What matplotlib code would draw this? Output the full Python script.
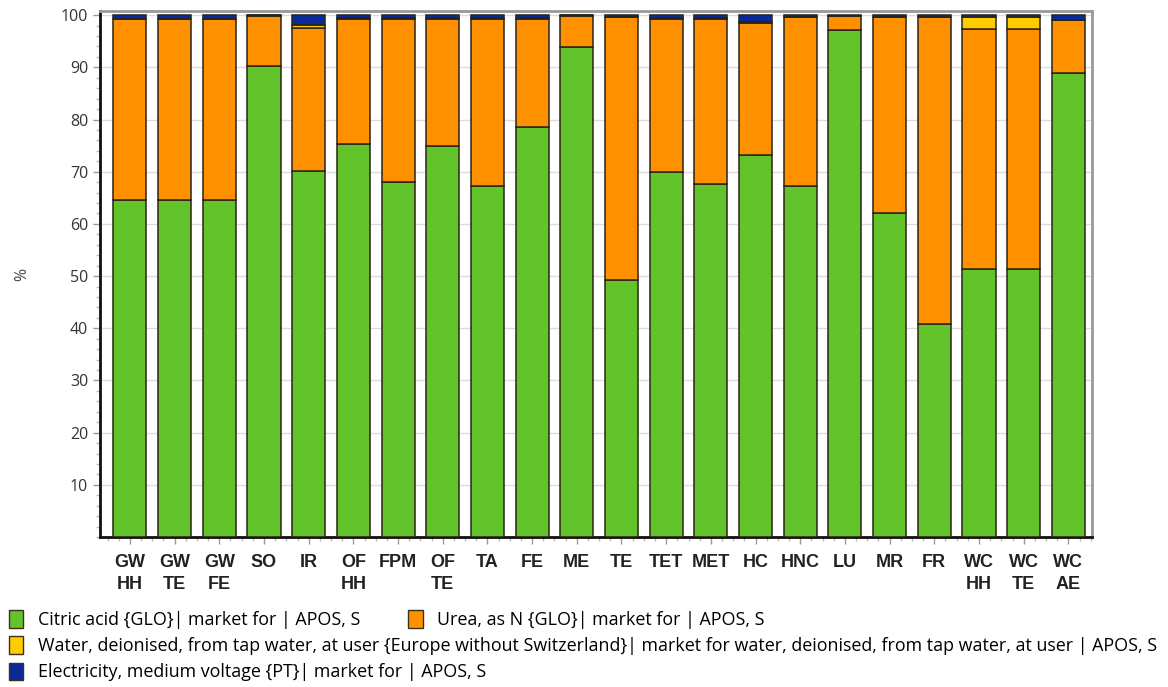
import matplotlib
matplotlib.use("Agg")
import matplotlib.pyplot as plt
from matplotlib.patches import Patch
from matplotlib.ticker import MultipleLocator
import numpy as np

# 데이터
labels = ["GW\nHH", "GW\nTE", "GW\nFE", "SO", "IR", "OF\nHH", "FPM", "OF\nTE", "TA", "FE", "ME",
          "TE", "TET", "MET", "HC", "HNC", "LU", "MR", "FR", "WC\nHH", "WC\nTE", "WC\nAE"]
citric = [64.5, 64.5, 64.5, 90.2, 70.2, 75.3, 68.0, 75.0, 67.3, 78.5, 93.9,
          49.2, 70.0, 67.6, 73.3, 67.3, 97.2, 62.0, 40.8, 51.3, 51.3, 88.9]
urea = [34.7, 34.7, 34.7, 9.7, 27.4, 24.0, 31.3, 24.3, 32.0, 20.8, 6.0,
        50.4, 29.3, 31.7, 25.2, 32.3, 2.6, 37.6, 58.8, 46.0, 46.0, 10.1]
water = [0.1, 0.1, 0.1, 0.05, 0.5, 0.1, 0.1, 0.1, 0.1, 0.1, 0.05,
         0.1, 0.1, 0.1, 0.2, 0.1, 0.1, 0.1, 0.1, 2.4, 2.4, 0.1]
elec = [0.7, 0.7, 0.7, 0.05, 1.9, 0.6, 0.6, 0.6, 0.6, 0.6, 0.05,
        0.3, 0.6, 0.6, 1.3, 0.3, 0.1, 0.3, 0.3, 0.3, 0.3, 0.9]

series = [
    ("Citric acid {GLO}| market for | APOS, S", citric, "#62c32a"),
    ("Urea, as N {GLO}| market for | APOS, S", urea, "#ff9100"),
    ("Water, deionised, from tap water, at user {Europe without Switzerland}| market for water, "
     "deionised, from tap water, at user | APOS, S", water, "#ffcc00"),
    ("Electricity, medium voltage {PT}| market for | APOS, S", elec, "#0a2a9a"),
]

fig = plt.figure(figsize=(11.68, 6.87), dpi=100)
ax = fig.add_axes([0.0856, 0.2183, 0.849, 0.7657])

x = np.arange(len(labels))
bottom = np.zeros(len(labels))
for name, vals, col in series:
    ax.bar(x, vals, bottom=bottom, width=0.74, color=col, edgecolor="#2a2418",
           linewidth=1.1, zorder=3)
    bottom += np.array(vals)

ax.set_xlim(-0.67, 21.52)
ax.set_ylim(0, 100.8)
ax.set_yticks(range(10, 101, 10))
ax.yaxis.set_minor_locator(MultipleLocator(2))
ax.xaxis.set_minor_locator(MultipleLocator(0.25))
ax.grid(axis="y", color="#dcdcdc", linewidth=1, zorder=0)

ax.set_xticks(x)
ax.set_xticklabels(labels, family="Liberation Sans", fontweight="bold",
                   fontsize=13, color="#222222", linespacing=1.4)
for t in ax.get_yticklabels():
    t.set_family("Open Sans")
    t.set_fontsize(11.5)
    t.set_color("#333333")

ax.tick_params(axis="both", which="major", color="#999999", length=5, width=1)
ax.tick_params(axis="both", which="minor", color="#bbbbbb", length=3, width=1)
ax.tick_params(axis="x", which="major", pad=7)

for s in ["left", "bottom"]:
    ax.spines[s].set_color("#111111")
    ax.spines[s].set_linewidth(2)
for s in ["top", "right"]:
    ax.spines[s].set_color("#999999")
    ax.spines[s].set_linewidth(2)

fig.text(0.019, 0.6, "%", rotation=90, ha="center", va="center",
         family="Open Sans", fontsize=11.5, color="#444444")

# 범례 (수동 배치)
legend_pos = [(0.0, 0.098), (0.342, 0.098), (0.0, 0.06), (0.0, 0.022)]
for (name, vals, col), (lx, ly) in zip(series, legend_pos):
    fig.legend(handles=[Patch(facecolor=col, edgecolor="#3a3020", linewidth=1)],
               labels=[name], loc="center left", bbox_to_anchor=(lx, ly),
               frameon=False, handlelength=0.8, handleheight=1.1, handletextpad=0.8,
               borderaxespad=0, borderpad=0.5,
               prop={"family": "Open Sans", "size": 12.9})

fig.savefig("out.png", dpi=100)
